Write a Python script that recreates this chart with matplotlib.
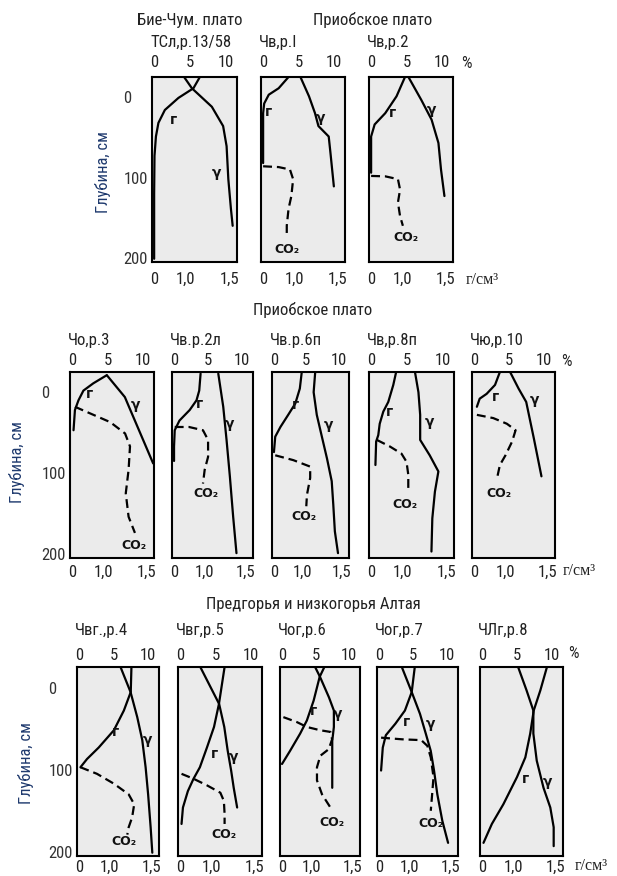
import matplotlib.pyplot as plt
from matplotlib import font_manager
from matplotlib.transforms import ScaledTranslation

# ---- data: (value, depth) pairs; r and CO2 in %, gamma in g/cm3 ----
# row 1
tsl_r = [(6.4, -25), (5.5, -11), (3.4, 1), (1.5, 16), (0.6, 32), (0.25, 49), (0.05, 73), (0.0, 120), (0.0, 201)]
tsl_g = [(0.98, -25), (1.07, -11), (1.30, 12), (1.43, 36), (1.47, 61), (1.49, 102), (1.52, 139), (1.54, 160)]

chv1_r = [(3.6, -25), (2.2, -11), (0.8, -3), (0.15, 8), (0.0, 20), (0.0, 49), (0.0, 82)]
chv1_co2 = [(0.0, 86), (2.2, 87), (3.8, 90), (4.25, 102), (4.0, 123), (3.6, 139), (3.35, 160), (3.35, 172)]
chv1_g = [(1.07, -25), (1.17, -1), (1.24, 20), (1.28, 36), (1.40, 49), (1.42, 69), (1.46, 111)]

chv2_r = [(4.8, -25), (3.6, -1), (2.0, 20), (0.5, 34), (0.0, 49), (0.0, 73), (0.0, 94)]
chv2_co2 = [(0.0, 98), (2.0, 98.5), (3.8, 102), (4.1, 115), (3.8, 131), (4.1, 148), (4.5, 160)]
chv2_g = [(1.07, -25), (1.22, 3.5), (1.34, 28), (1.42, 57), (1.45, 90), (1.49, 123)]

# row 2
cho3_r = [(4.9, -21), (3.0, -11), (1.6, -2), (0.9, 10), (0.4, 22), (0.2, 47)]
cho3_co2 = [(0.4, 18), (2.5, 26), (5.4, 37), (7.5, 51), (8.2, 67), (8.0, 96), (7.6, 125), (8.0, 154), (8.9, 174)]
cho3_g = [(1.04, -21), (1.25, 6), (1.29, 16), (1.58, 88)]

chv2l_r = [(3.9, -23), (3.7, -2), (3.3, 10), (2.3, 22), (0.8, 35), (0.1, 47), (0.0, 67), (0.0, 85)]
chv2l_co2 = [(0.1, 43), (2.2, 43), (4.25, 47), (5.0, 59), (5.0, 80), (4.5, 96), (4.25, 113)]
chv2l_g = [(1.17, -23), (1.23, 18), (1.27, 59), (1.31, 104), (1.35, 154), (1.39, 199)]

chv6_r = [(4.3, -25), (4.0, -4.5), (3.3, 14), (2.2, 28), (1.0, 43), (0.2, 55), (0.0, 74)]
chv6_co2 = [(0.2, 78), (3.0, 84), (5.6, 92), (5.6, 106), (5.1, 127), (5.0, 141)]
chv6_g = [(1.16, -25), (1.14, 0), (1.18, 28), (1.24, 53), (1.31, 82), (1.37, 110), (1.39, 139), (1.41, 172), (1.45, 199)]

chv8_r = [(3.5, -25), (3.1, -9), (2.4, 12), (1.7, 24), (1.2, 39), (1.0, 53), (0.7, 61), (0.6, 90)]
chv8_co2 = [(0.8, 59), (2.6, 67), (4.25, 76), (4.95, 86), (5.2, 102), (5.2, 123)]
chv8_g = [(1.14, -25), (1.18, 0), (1.20, 28), (1.20, 59), (1.31, 78), (1.41, 98), (1.37, 123), (1.34, 156), (1.33, 197)]

chyu10_r = [(3.7, -25), (3.0, -9), (1.8, 2), (0.8, 8), (0.4, 18)]
chyu10_co2 = [(0.4, 28), (2.75, 32), (4.7, 39), (5.95, 47), (5.45, 61), (4.5, 78), (3.7, 90), (3.3, 106)]
chyu10_g = [(1.06, -25), (1.16, -4.5), (1.25, 12), (1.29, 32), (1.34, 57), (1.43, 104)]

# row 3
chvg4_r = [(7.6, -25), (7.5, 5.5), (6.5, 28), (5.05, 52), (2.85, 73), (1.15, 87), (0.2, 97)]
chvg4_co2 = [(0.2, 97), (2.6, 105), (5.05, 117), (7.2, 130), (8.0, 142), (7.7, 158), (7.2, 170), (7.0, 179)]
chvg4_g = [(1.13, -25), (1.25, 5.5), (1.33, 36), (1.39, 64), (1.43, 97), (1.46, 130), (1.49, 170), (1.51, 201)]

chvg5_r = [(6.3, -25), (5.5, 20), (4.8, 48), (3.8, 73), (2.8, 97), (1.9, 111), (1.1, 126), (0.4, 146), (0.2, 166)]
chvg5_co2 = [(0.2, 105), (1.9, 111), (3.8, 119), (5.7, 128), (6.2, 138), (6.3, 154), (6.3, 166)]
chvg5_g = [(0.87, -25), (1.09, 20), (1.15, 48), (1.19, 77), (1.23, 101), (1.26, 122), (1.30, 146)]

chog6_r = [(6.3, -25), (5.6, -13), (4.7, 16), (3.7, 40), (2.7, 56), (1.2, 77), (0.0, 93)]
chog6_co2 = [(0.2, 36), (2.2, 42), (3.7, 48), (5.7, 52), (7.2, 54), (7.45, 63), (6.95, 75), (5.7, 83),
             (5.2, 97), (5.2, 113), (5.95, 130), (7.2, 146)]
chog6_g = [(1.04, -25), (1.10, -13), (1.21, 12), (1.27, 28), (1.27, 48), (1.25, 65), (1.25, 89), (1.25, 122)]

chog7_r = [(5.25, -25), (4.8, 5.5), (3.8, 28), (2.4, 44), (1.0, 58), (0.55, 73), (0.3, 101)]
chog7_co2 = [(0.3, 61), (3.4, 63), (6.2, 64), (7.1, 71), (7.6, 85), (8.0, 109), (7.8, 130), (7.6, 150)]
chog7_g = [(0.91, -25), (1.03, 5.5), (1.13, 32), (1.20, 56), (1.26, 77), (1.30, 101), (1.34, 130), (1.40, 162), (1.47, 189)]

chlg8_r = [(9.3, -25), (8.35, 3.5), (7.4, 28), (6.9, 56), (6.2, 85), (5.0, 109), (3.05, 142), (1.4, 166), (0.2, 189)]
chlg8_g = [(1.06, -25), (1.16, 3.5), (1.24, 28), (1.24, 56), (1.28, 89), (1.36, 122), (1.44, 146), (1.48, 170), (1.48, 193)]

titles_row1 = ['ТСл,р.13/58', 'Чв,р.I', 'Чв,р.2']
titles_row2 = ['Чо,р.3', 'Чв.р.2л', 'Чв.р.6п', 'Чв,р.8п', 'Чю,р.10']
titles_row3 = ['Чвг.,р.4', 'Чвг,р.5', 'Чог,р.6', 'Чог,р.7', 'ЧЛг,р.8']
sections = ['Бие-Чум. плато', 'Приобское плато', 'Приобское плато', 'Предгорья и низкогорья Алтая']

pct_ticks = [0, 5, 10]
dens_ticks = [0.64, 1.0, 1.5]
dens_labels = ['0', '1,0', '1,5']
depth_ticks = [0, 100, 200]

# ---- fonts: a narrow sans if one is installed ----
names = {f.name for f in font_manager.fontManager.ttflist}
SANS, FS, TFS = 'Liberation Sans', 11, 10.5
for cand in ['Liberation Sans Narrow', 'Roboto Condensed', 'Open Sans Condensed']:
    if cand in names:
        SANS, FS, TFS = cand, 12, 12
        break
plt.rcParams['font.family'] = [SANS, 'DejaVu Sans']
TXT = '#222222'

W, H = 617, 876
fig = plt.figure(figsize=(W / 100, H / 100), dpi=100)
fig.patch.set_facecolor('white')


def fx(x):
    return x / W


def fy(y):
    return 1 - y / H


# panel layout: rect in px (l, t, r, b), curves, mark positions (pct, depth)
rows = [
    dict(pads=(5, 7), ylab=(103, 172),
         panels=[((152, 77, 237, 262), tsl_r, tsl_g, None, [(2.7, 28), (8.7, 94), None]),
                 ((261, 77, 345, 262), chv1_r, chv1_g, chv1_co2, [(0.8, 18), (8.1, 26), (3.4, 189)]),
                 ((369, 77, 453, 262), chv2_r, chv2_g, chv2_co2, [(3.1, 20), (8.5, 16), (5.0, 174)])],
         titles=titles_row1, title_y=43, pct=(461, 63), unit=(482, 280)),
    dict(pads=(3, 5), ylab=(17, 462),
         panels=[((70, 372, 154, 558), cho3_r, cho3_g, cho3_co2, [(2.5, 2), (8.9, 16), (8.7, 189)]),
                 ((172, 372, 253, 558), chv2l_r, chv2l_g, chv2l_co2, [(3.7, 14), (8.2, 39), (4.7, 125)]),
                 ((272, 372, 349, 558), chv6_r, chv6_g, chv6_co2, [(3.3, 16), (8.4, 41), (4.6, 154)]),
                 ((369, 372, 454, 558), chv8_r, chv8_g, chv8_co2, [(2.6, 24), (8.2, 37), (4.7, 139)]),
                 ((472, 372, 555, 558), chyu10_r, chyu10_g, chyu10_co2, [(3.0, 6), (8.6, 10), (3.5, 125)])],
         titles=titles_row2, title_y=341, pct=(561, 362), unit=(579, 571)),
    dict(pads=(3, 3), ylab=(26, 763),
         panels=[((77, 667, 159, 856), chvg4_r, chvg4_g, chvg4_co2, [(5.3, 54), (9.9, 64), (6.5, 187)]),
                 ((178, 667, 262, 856), chvg5_r, chvg5_g, chvg5_co2, [(4.8, 81), (7.6, 85), (6.2, 179)]),
                 ((280, 667, 360, 856), chog6_r, chog6_g, chog6_co2, [(4.7, 28), (8.2, 32), (7.45, 164)]),
                 ((377, 667, 458, 856), chog7_r, chog7_g, chog7_co2, [(4.1, 42), (7.6, 44), (7.6, 166)]),
                 ((480, 667, 563, 856), chlg8_r, chlg8_g, None, [(6.2, 111), (9.3, 115), None])],
         titles=titles_row3, title_y=631, pct=(568, 653), unit=(591, 866)),
]

for row in rows:
    top_pad, bot_pad = row['pads']
    for i, (rect, r, g, co2, marks) in enumerate(row['panels']):
        l, t, rr, b = rect
        ax = fig.add_axes([fx(l), fy(b), fx(rr - l), (b - t) / H])
        ax.set_facecolor('#ebebeb')
        ax.set_xlim(-0.3, 11.6)
        ax.set_ylim(205, -25)
        for s in ax.spines.values():
            s.set_linewidth(1.5)
            s.set_color('black')

        # density scale on the bottom (twiny moves ax ticks to the bottom, so set top afterwards)
        ax2 = ax.twiny()
        ax2.set_xlim(0.61, 1.59)
        ax2.xaxis.tick_bottom()
        ax2.set_xticks(dens_ticks, dens_labels)
        ax2.tick_params(axis='x', length=0, pad=bot_pad, labelsize=FS, labelcolor=TXT)
        for s in ax2.spines.values():
            s.set_visible(False)

        ax.xaxis.tick_top()
        ax.set_xticks(pct_ticks)
        ax.tick_params(axis='x', length=0, pad=top_pad, labelsize=FS, labelcolor=TXT)
        if i == 0:
            ax.set_yticks(depth_ticks)
            ax.tick_params(axis='y', length=0, pad=3, labelsize=FS, labelcolor='#333333')
            lab0 = ax.get_yticklabels()[0]
            lab0.set_transform(lab0.get_transform() + ScaledTranslation(-0.17, 0, fig.dpi_scale_trans))
        else:
            ax.set_yticks([])

        rv, rd = zip(*r)
        ax.plot(rv, rd, color='black', lw=1.6, solid_capstyle='round')
        gv, gd = zip(*g)
        ax2.plot(gv, gd, color='black', lw=1.6, solid_capstyle='round')
        if co2 is not None:
            cv, cd = zip(*co2)
            ax.plot(cv, cd, color='black', lw=1.6, dashes=(4, 2.2))

        for txt, pos in zip(['г', 'γ', 'CO₂'], marks):
            if pos is None:
                continue
            ax.text(pos[0], pos[1], txt, ha='center', va='center', fontsize=9 if txt == 'CO₂' else 10,
                    fontweight='bold', family='DejaVu Sans', color='#111111')

        fig.text(fx(l - 2), fy(row['title_y']), row['titles'][i], ha='left', va='center',
                 fontsize=TFS, color=TXT)

    fig.text(fx(row['ylab'][0]), fy(row['ylab'][1]), 'Глубина, см', rotation=90,
             ha='center', va='center', fontsize=FS, color='#1f3a6e')
    fig.text(fx(row['pct'][0]), fy(row['pct'][1]), '%', ha='left', va='center',
             fontsize=FS, color=TXT)
    fig.text(fx(row['unit'][0]), fy(row['unit'][1]), 'г/см³', ha='center', va='center',
             fontsize=FS - 0.5, family='Liberation Serif', color=TXT)

fig.text(fx(190), fy(20), sections[0], ha='center', va='center', fontsize=TFS, color=TXT)
fig.text(fx(373), fy(20), sections[1], ha='center', va='center', fontsize=TFS, color=TXT)
fig.text(fx(313), fy(310), sections[2], ha='center', va='center', fontsize=TFS, color=TXT)
fig.text(fx(313), fy(605), sections[3], ha='center', va='center', fontsize=TFS, color=TXT)

fig.savefig('out.png', dpi=100)
